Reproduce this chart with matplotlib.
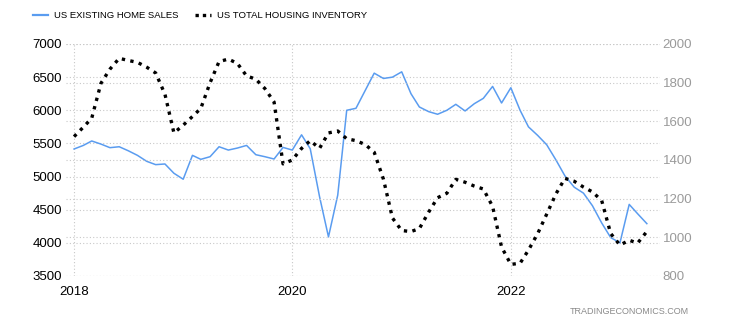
import pandas as pd
import matplotlib
matplotlib.use("Agg")
import matplotlib.pyplot as plt
from matplotlib.lines import Line2D

plt.rcParams['font.family'] = ['Liberation Sans', 'DejaVu Sans']

# monthly, Jan 2018 .. Apr 2023
months = pd.date_range("2018-01-01", periods=64, freq="MS")

home_sales = [
    5416, 5470, 5537, 5490, 5436, 5450, 5390, 5320, 5230, 5180, 5190, 5050,   # 2018
    4960, 5320, 5260, 5300, 5450, 5400, 5430, 5470, 5330, 5300, 5265, 5440,   # 2019
    5400, 5630, 5420, 4700, 4090, 4720, 6000, 6030, 6300, 6560, 6480, 6500,   # 2020
    6580, 6250, 6050, 5980, 5940, 6000, 6090, 5990, 6100, 6180, 6360, 6110,   # 2021
    6340, 6000, 5750, 5620, 5480, 5250, 5010, 4840, 4750, 4560, 4300, 4080,   # 2022
    4000, 4580, 4440, 4290,                                                   # 2023
]

inventory = [
    1521, 1570, 1616, 1797, 1870, 1926, 1915, 1905, 1880, 1850, 1740, 1540,   # 2018
    1580, 1625, 1667, 1800, 1909, 1922, 1900, 1835, 1818, 1770, 1700, 1380,   # 2019
    1400, 1460, 1500, 1460, 1540, 1550, 1510, 1500, 1480, 1440, 1300, 1100,   # 2020
    1035, 1030, 1045, 1130, 1205, 1228, 1300, 1285, 1265, 1250, 1160, 950,    # 2021
    860, 866, 934, 1020, 1120, 1225, 1305, 1290, 1260, 1235, 1190, 1020,      # 2022
    960, 985, 970, 1030,                                                      # 2023
]

left_ticks = [3500, 4000, 4500, 5000, 5500, 6000, 6500, 7000]
right_ticks = [800, 1000, 1200, 1400, 1600, 1800, 2000]
year_ticks = pd.to_datetime(["2018-01-01", "2020-01-01", "2022-01-01"])

blue = "#5a9cf0"
grid_kw = dict(color="#c8c8c8", linestyle=(0, (1, 2)), linewidth=0.8)

fig = plt.figure(figsize=(7.34, 3.30), dpi=100)
ax = fig.add_axes([66 / 734, 1 - 276 / 330, (660 - 66) / 734, (276 - 44) / 330])
ax2 = ax.twinx()

ax.plot(months, home_sales, color=blue, linewidth=1.1, zorder=3)
ax2.plot(months, inventory, color="black", linewidth=2.4, linestyle=(0, (1, 1.6)), zorder=3)

ax.set_xlim(pd.Timestamp("2017-12-05"), pd.Timestamp("2023-05-15"))
ax.set_ylim(3500, 7000)
ax2.set_ylim(800, 2000)

ax.set_yticks(left_ticks)
ax2.set_yticks(right_ticks)
ax.set_xticks(year_ticks)
ax.set_xticklabels([d.strftime("%Y") for d in year_ticks])

ax.grid(True, axis="both", **grid_kw)
ax2.grid(True, axis="y", **grid_kw)
ax.set_axisbelow(True)

for a in (ax, ax2):
    for s in a.spines.values():
        s.set_visible(False)
ax.tick_params(axis="both", length=0, labelsize=9.5, colors="black")
ax.tick_params(axis="y", pad=3)
ax.tick_params(axis="x", pad=7)
ax2.tick_params(axis="y", length=0, labelsize=9.5, labelcolor="#9a9a9a", pad=2)

handles = [
    Line2D([], [], color=blue, linewidth=1.6),
    Line2D([], [], color="black", linewidth=2.4, linestyle=(0, (1, 1.2))),
]
fig.legend(handles, ["US EXISTING HOME SALES", "US TOTAL HOUSING INVENTORY"],
           loc="upper left", bbox_to_anchor=(0.033, 0.992), ncol=2, frameon=False,
           fontsize=6.8, handlelength=1.6, handletextpad=0.65, columnspacing=1.8)

fig.text(689 / 734, 1 - 312 / 330, "TRADINGECONOMICS.COM", ha="right", va="center",
         fontsize=6.5, color="#8a8a8a")

fig.savefig("out.png", dpi=100)
